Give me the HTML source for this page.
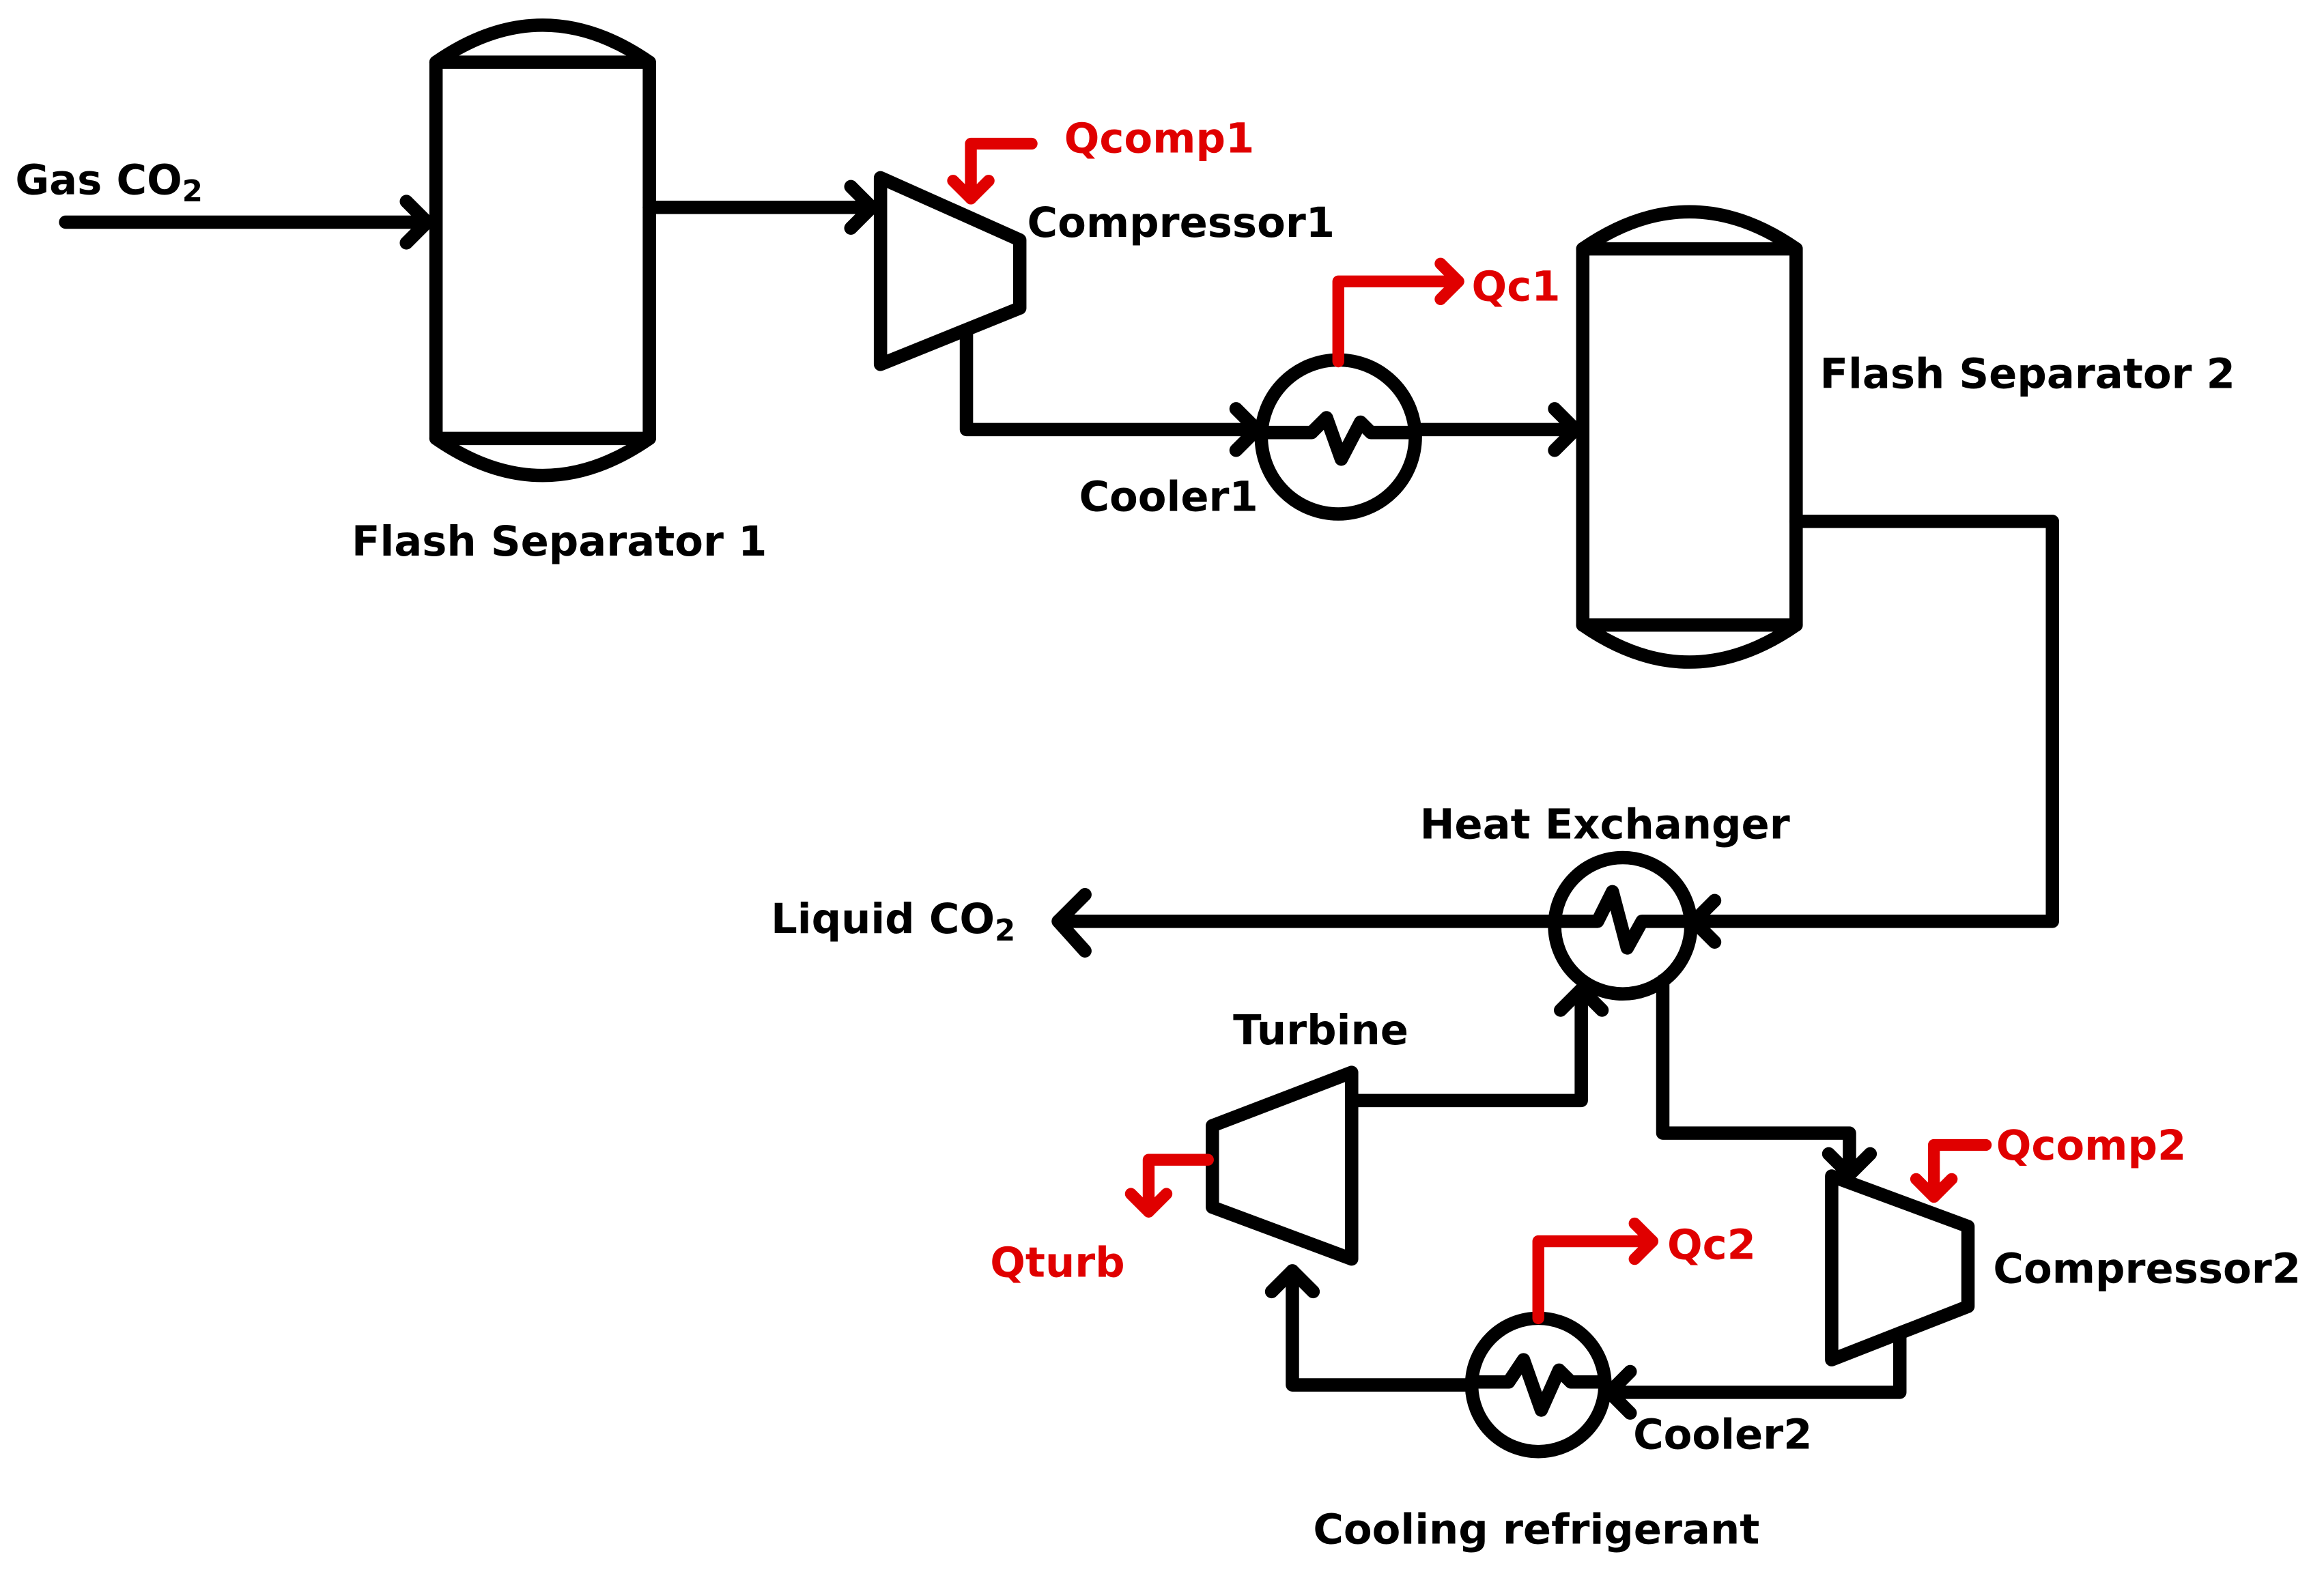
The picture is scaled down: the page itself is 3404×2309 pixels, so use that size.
<!DOCTYPE html>
<html><head><meta charset="utf-8"><style>
html,body{margin:0;padding:0;background:#fff;}
svg{display:block;}
text{font-family:"DejaVu Sans","Liberation Sans",sans-serif;font-weight:bold;font-size:28px;}
</style></head><body>
<svg width="3404" height="2309" viewBox="0 0 1568 1064" xmlns="http://www.w3.org/2000/svg">
<g fill="none" stroke="#000" stroke-width="9" stroke-linecap="round" stroke-linejoin="round">
<rect x="294" y="42" width="144" height="254"/>
<path d="M294 42 Q366 -8 438 42"/>
<path d="M294 296 Q366 346 438 296"/>
<rect x="1068" y="168" width="144" height="254"/>
<path d="M1068 168 Q1140 118 1212 168"/>
<path d="M1068 422 Q1140 472 1212 422"/>
<path d="M44 150 H288"/><path d="M274 136 L288 150 L274 164"/>
<path d="M438 140 H588"/><path d="M574 126 L588 140 L574 154"/>
<path d="M594 120 L688 162 L688 208 L594 246 Z"/>
<path d="M652 226 V290 H848"/><path d="M834 276 L848 290 L834 304"/>
<circle cx="903" cy="295" r="52"/>
<path d="M855 292 H885 L895 282 L905 310 L918 285 L925 292 H953"/>
<path d="M955 290 H1063"/><path d="M1049 276 L1063 290 L1049 304"/>
<path d="M1212 352 H1385 V622 H1143"/><path d="M1157 608 L1143 622 L1157 636"/>
<circle cx="1095" cy="625" r="46"/>
<path d="M1049 622 H1078 L1088 602 L1098 640 L1108 622 H1141"/>
<path d="M1050 622 H714"/><path d="M732 604 L714 622 L732 642"/>
<path d="M818 760 L912 724 L912 850 L818 815 Z"/>
<path d="M914 743 H1067 V668"/><path d="M1053 682 L1067 668 L1081 682"/>
<path d="M1122 662 V765 H1248 V793"/><path d="M1234 779 L1248 793 L1262 779"/>
<path d="M1236 794 L1328 828 L1328 882 L1236 918 Z"/>
<path d="M1282 900 V940 H1086"/><path d="M1100 926 L1086 940 L1100 954"/>
<circle cx="1038" cy="935" r="45"/>
<path d="M993 933 H1018 L1028 918 L1040 952 L1052 925 L1060 933 H1083"/>
<path d="M993 935 H872 V858"/><path d="M858 872 L872 858 L886 872"/>
</g>
<g fill="none" stroke="#e00000" stroke-width="8" stroke-linecap="round" stroke-linejoin="round">
<path d="M696 97 H655 V134"/><path d="M643 122 L655 134 L667 122"/>
<path d="M903 244 V190 H984"/><path d="M972 178 L984 190 L972 202"/>
<path d="M815 783 H775 V818"/><path d="M763 806 L775 818 L787 806"/>
<path d="M1340 773 H1305 V808"/><path d="M1293 796 L1305 808 L1317 796"/>
<path d="M1038 890 V838 H1115"/><path d="M1103 826 L1115 838 L1103 850"/>
</g>
<g fill="#000">
<text x="10" y="131">Gas CO<tspan font-size="20" dy="5">2</tspan></text>
<text x="237" y="375">Flash Separator 1</text>
<text x="693" y="160">Compressor1</text>
<text x="728" y="345">Cooler1</text>
<text x="1228" y="262">Flash Separator 2</text>
<text x="958" y="566">Heat Exchanger</text>
<text x="520" y="630">Liquid CO<tspan font-size="20" dy="5">2</tspan></text>
<text x="832" y="705">Turbine</text>
<text x="1345" y="866">Compressor2</text>
<text x="1102" y="978">Cooler2</text>
<text x="886" y="1042">Cooling refrigerant</text>
</g>
<g fill="#e00000">
<text x="718" y="103">Qcomp1</text>
<text x="993" y="203">Qc1</text>
<text x="668" y="862">Qturb</text>
<text x="1347" y="783">Qcomp2</text>
<text x="1125" y="850">Qc2</text>
</g>
</svg>
</body></html>
